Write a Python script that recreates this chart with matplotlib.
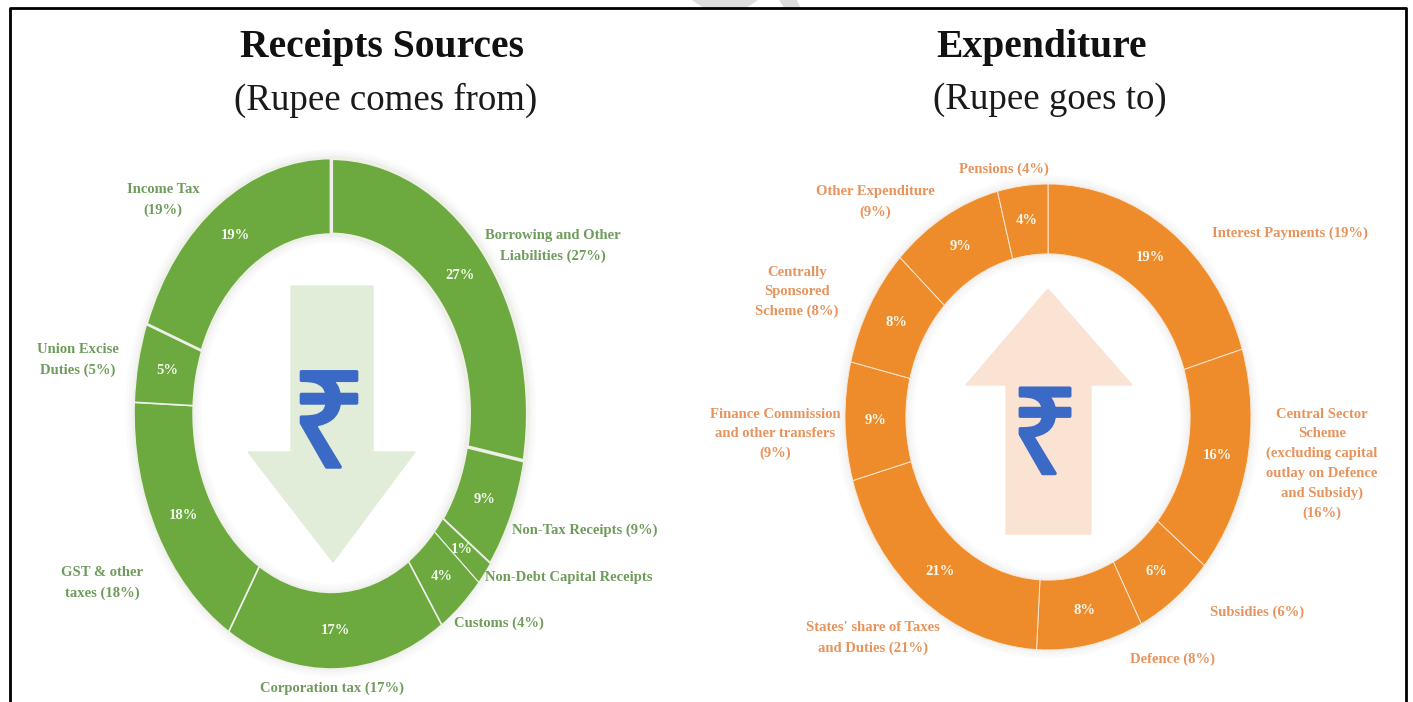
import matplotlib
matplotlib.use('Agg')
import matplotlib.pyplot as plt
import matplotlib.patheffects as pe
from matplotlib.patches import Polygon

W, H = 1413, 702

# Slice sizes as drawn in the picture, they differ a little from the printed
# percentages (the printed ones are kept as the labels)
receipt_names = ['Borrowing and Other\nLiabilities (27%)', 'Non-Tax Receipts (9%)',
                 'Non-Debt Capital Receipts', 'Customs (4%)', 'Corporation tax (17%)',
                 'GST & other\ntaxes (18%)', 'Union Excise\nDuties (5%)', 'Income Tax\n(19%)']
receipt_shares = [28, 7, 1.5, 4, 18.2, 17, 5, 19.3]
receipt_pct = ['27%', '9%', '1%', '4%', '17%', '18%', '5%', '19%']
receipt_lw = [3.0, 2.0, 0.8, 0.8, 1.2, 1.2, 1.2, 2.0]

spend_names = ['Interest Payments (19%)',
               'Central Sector\nScheme\n(excluding capital\noutlay on Defence\nand Subsidy)\n(16%)',
               'Subsidies (6%)', 'Defence (8%)', "States' share of Taxes\nand Duties (21%)",
               'Finance Commission\nand other transfers\n(9%)',
               'Centrally\nSponsored\nScheme (8%)', 'Other Expenditure\n(9%)', 'Pensions (4%)']
spend_shares = [20.3, 15.7, 6.4, 8.5, 19.7, 8.2, 8.2, 9, 4]
spend_pct = ['19%', '16%', '6%', '8%', '21%', '9%', '8%', '9%', '4%']

# label centres in picture pixels
receipt_xy = [(553, 246), (585, 530), (569, 578), (499, 623), (332, 688),
              (102, 583), (78, 360), (163, 200)]
spend_xy = [(1290, 233), (1322, 464), (1257, 612), (1172, 659), (873, 638),
            (775, 434), (797, 292), (875, 202), (1004, 169)]

GREEN, GREEN_TXT, GREEN_ARROW = '#6ca93f', '#6f9c5c', '#e2edd9'
ORANGE, ORANGE_TXT, ORANGE_ARROW = '#ee8c2c', '#e8935c', '#fbe3d4'
BLUE = '#3a69c6'
SERIF = 'Liberation Serif'


def donut(cx, cy, rx, ry, shares, pct, color, edge, lw):
    # ellipse comes from stretching the pie axes, so it stays auto aspect
    ax = fig.add_axes([(cx - rx) / W, 1 - (cy + ry) / H, 2 * rx / W, 2 * ry / H], zorder=1)
    # soft shadow round the ring
    for glow in (12, 8, 4):
        halo, _ = ax.pie([1], radius=1, startangle=90, colors=['#8a8a8a'],
                         wedgeprops=dict(width=0.3, edgecolor='#8a8a8a', linewidth=glow, alpha=0.03))
        halo[0].set_clip_on(False)
    wedges, texts = ax.pie(shares, labels=pct, startangle=90, counterclock=False, radius=1,
                           labeldistance=0.85, colors=[color] * len(shares),
                           wedgeprops=dict(width=0.3, edgecolor=edge, linewidth=1.2),
                           textprops=dict(color='#f4f8ee', fontsize=10.5, fontweight='bold',
                                          family=SERIF))
    for w, t, l in zip(wedges, texts, lw):
        w.set_linewidth(l)
        t.set_ha('center')
        t.set_va('center')
    ax.set_aspect('auto')
    ax.set_xlim(-1, 1)
    ax.set_ylim(-1, 1)


fig = plt.figure(figsize=(W / 100, H / 100), dpi=100, facecolor='white')

donut(331, 413.5, 197, 255.5, receipt_shares, receipt_pct, GREEN, '#eef0e8', receipt_lw)
donut(1048, 417, 203, 233, spend_shares, spend_pct, ORANGE, '#fbe6d0', [0.7] * 9)

# overlay in picture pixels for everything else
ov = fig.add_axes([0, 0, 1, 1], zorder=2)
ov.set_xlim(0, W)
ov.set_ylim(H, 0)
ov.axis('off')
ov.patch.set_alpha(0)

# watermark scraps at the top, then the frame (no bottom edge)
ov.add_patch(Polygon([(693, 0), (757, 0), (745, 8), (705, 8)], color='#dddddd', zorder=0))
ov.add_patch(Polygon([(780, 0), (796, 0), (800, 8), (785, 8)], color='#dddddd', zorder=0))
ov.plot([10, 10, 1406, 1406], [H, 8, 8, H], color='black', lw=2)

ov.add_patch(Polygon([(291, 286), (373, 286), (373, 452), (415, 452), (333, 562),
                      (248, 452), (291, 452)], color=GREEN_ARROW, zorder=1))
ov.add_patch(Polygon([(1048, 289), (1132, 385), (1091, 385), (1091, 534), (1006, 534),
                      (1006, 385), (966, 385)], color=ORANGE_ARROW, zorder=1))
thick = [pe.withStroke(linewidth=2.5, foreground=BLUE)]
ov.text(329, 432, '\u20b9', color=BLUE, fontsize=96, family='Noto Sans',
        ha='center', va='center', zorder=3, path_effects=thick)
ov.text(1045, 443, '\u20b9', color=BLUE, fontsize=86, family='Noto Sans',
        ha='center', va='center', zorder=3, path_effects=thick)

ov.text(382, 48, 'Receipts Sources', fontsize=28.5, fontweight='bold', family=SERIF,
        ha='center', va='center', color='#111111')
ov.text(386, 100, '(Rupee comes from)', fontsize=26.6, family=SERIF, ha='center', va='center',
        color='#1a1a1a')
ov.text(1042, 48, 'Expenditure', fontsize=28.5, fontweight='bold', family=SERIF,
        ha='center', va='center', color='#111111')
ov.text(1050, 100, '(Rupee goes to)', fontsize=26.6, family=SERIF, ha='center', va='center',
        color='#1a1a1a')

for name, (x, y) in zip(receipt_names, receipt_xy):
    ov.text(x, y, name, color=GREEN_TXT, fontsize=10.5, fontweight='bold', family=SERIF,
            ha='center', va='center', linespacing=1.68)
for name, (x, y) in zip(spend_names, spend_xy):
    ov.text(x, y, name, color=ORANGE_TXT, fontsize=10.5, fontweight='bold', family=SERIF,
            ha='center', va='center', linespacing=1.65)

fig.savefig('out.png', dpi=100)
